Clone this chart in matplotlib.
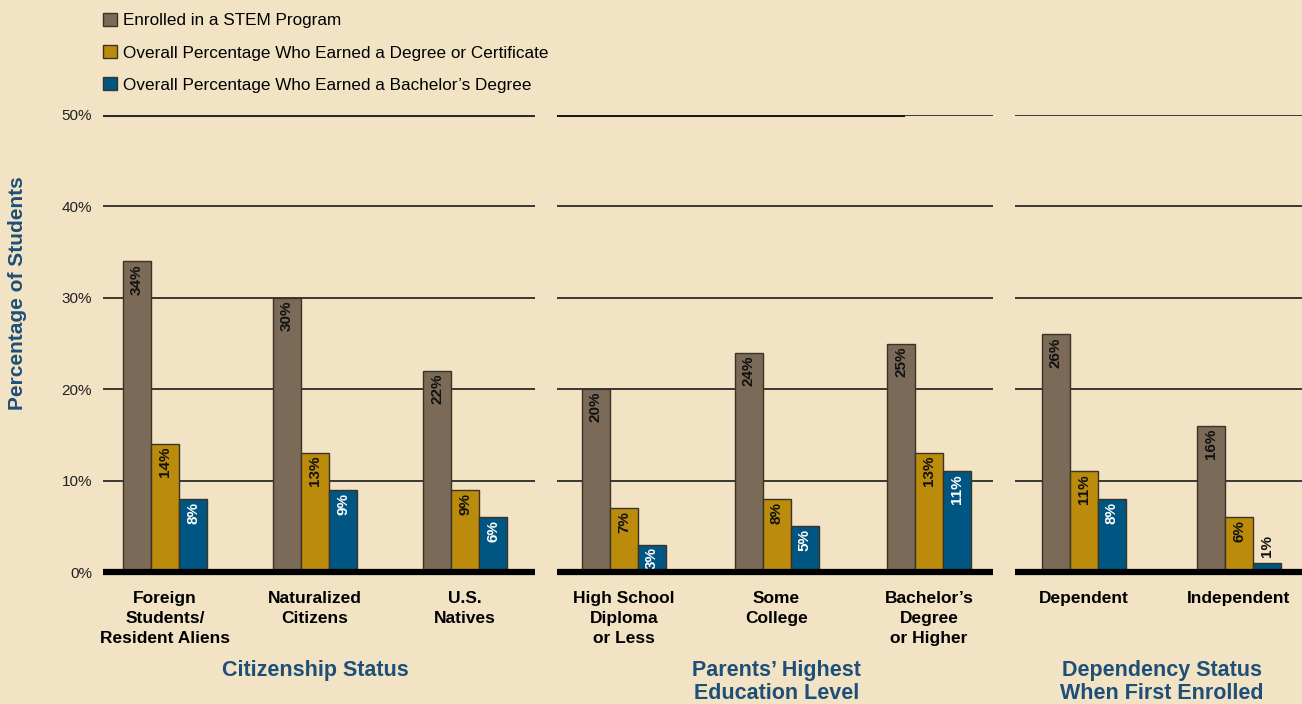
import numpy as np
import matplotlib
matplotlib.use("Agg")
import matplotlib.pyplot as plt
from matplotlib.patches import Patch

plt.rcParams['font.family'] = ['Liberation Sans', 'DejaVu Sans']

# data
series_names = ["Enrolled in a STEM Program",
                "Overall Percentage Who Earned a Degree or Certificate",
                "Overall Percentage Who Earned a Bachelor\u2019s Degree"]

citizenship_cats = ["Foreign\nStudents/\nResident Aliens", "Naturalized\nCitizens", "U.S.\nNatives"]
citizenship_enrolled = [34, 30, 22]
citizenship_degree = [14, 13, 9]
citizenship_bachelor = [8, 9, 6]

parents_cats = ["High School\nDiploma\nor Less", "Some\nCollege", "Bachelor\u2019s\nDegree\nor Higher"]
parents_enrolled = [20, 24, 25]
parents_degree = [7, 8, 13]
parents_bachelor = [3, 5, 11]

dependency_cats = ["Dependent", "Independent"]
dependency_enrolled = [26, 16]
dependency_degree = [11, 6]
dependency_bachelor = [8, 1]

group_titles = ["Citizenship Status", "Parents\u2019 Highest\nEducation Level",
                "Dependency Status\nWhen First Enrolled"]
yticks = [0, 10, 20, 30, 40, 50]

# style
BG = "#f2e3c4"
COLORS = ["#7b6a57", "#bb8b0b", "#005682"]
TXT_COLORS = ["#111111", "#111111", "white"]
BLUE_TXT = "#1d4f78"
W, H = 1302, 704

fig = plt.figure(figsize=(W / 100, H / 100), dpi=100, facecolor=BG)

# pixel layout: (left, right, first group center, px per group)
panels = [
    (citizenship_cats, [citizenship_enrolled, citizenship_degree, citizenship_bachelor], 103, 535, 165, 150),
    (parents_cats, [parents_enrolled, parents_degree, parents_bachelor], 557, 993, 624, 152.5),
    (dependency_cats, [dependency_enrolled, dependency_degree, dependency_bachelor], 1015, 1302, 1084, 155),
]
y_top, y_bot = 115, 572

for i, (cats, series, left, right, c0, scale) in enumerate(panels):
    ax = fig.add_axes([left / W, 1 - y_bot / H, (right - left) / W, (y_bot - y_top) / H])
    ax.set_facecolor(BG)
    ax.patch.set_alpha(0)
    ax.set_xlim((left - c0) / scale, (right - c0) / scale)
    ax.set_ylim(0, 50)
    x = np.arange(len(cats))
    bw = 28 / scale
    for k, vals in enumerate(series):
        xs = x + (k - 1) * bw
        ax.bar(xs, vals, width=bw, color=COLORS[k], edgecolor="#3b3326", linewidth=1, zorder=3)
        for xi, v in zip(xs, vals):
            if v >= 2:
                ax.annotate(f"{v}%", (xi, v), xytext=(0, -2), textcoords="offset points",
                            rotation=90, ha="center", va="top", fontsize=11,
                            fontweight="bold", color=TXT_COLORS[k], zorder=4)
            else:
                ax.annotate(f"{v}%", (xi, v), xytext=(0, 4), textcoords="offset points",
                            rotation=90, ha="center", va="bottom", fontsize=11,
                            fontweight="bold", color="#111111", zorder=4)
    for yv in yticks[1:]:
        lw = 1.3
        if yv == 50 and i == 0:
            lw = 2.2
        ax.axhline(yv, color="#2b2b2b", lw=lw, zorder=1)
    if i == 1:
        ax.axhline(50, xmin=0, xmax=(903 - left) / (right - left), color="#1a1a1a", lw=2.2, zorder=2)
    ax.axhline(0, color="black", lw=4.5, zorder=5, clip_on=False, solid_capstyle="butt")
    for s in ax.spines.values():
        s.set_visible(False)
    ax.set_xticks(x)
    ax.set_xticklabels(cats, fontsize=12.5, fontweight="bold", linespacing=1.38)
    ax.tick_params(axis="x", length=0, pad=14)
    if i == 0:
        ax.set_yticks(yticks)
        ax.set_yticklabels([f"{v}%" for v in yticks], fontsize=11, color="#222222")
        ax.tick_params(axis="y", length=0, pad=8)
    else:
        ax.set_yticks([])
    ax.text(np.mean(x), -0.192, group_titles[i], transform=ax.get_xaxis_transform(),
            ha="center", va="top", fontsize=15.5, fontweight="bold", color=BLUE_TXT,
            linespacing=1.17)

fig.text(18 / W, 1 - 293 / H, "Percentage of Students", rotation=90, ha="center", va="center",
         fontsize=15, fontweight="bold", color=BLUE_TXT)

handles = [Patch(facecolor=c, edgecolor="#3b3326", linewidth=1) for c in COLORS]
fig.legend(handles, series_names, loc="upper left", bbox_to_anchor=(96 / W, 1 - 6 / H),
           frameon=False, fontsize=12.3, handlelength=0.8, handleheight=0.8,
           handletextpad=0.4, labelspacing=0.98, borderaxespad=0)

fig.savefig("out.png", dpi=100, facecolor=BG)
